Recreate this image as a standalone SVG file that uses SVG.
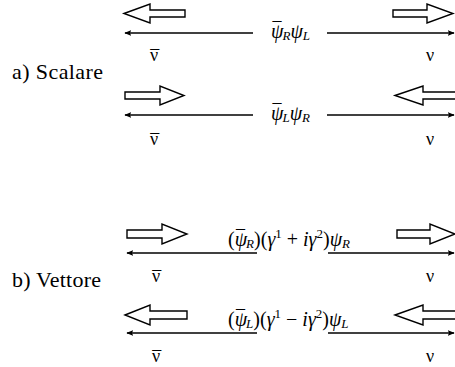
<svg xmlns="http://www.w3.org/2000/svg" width="455" height="367" viewBox="0 0 455 367" font-family="'Liberation Serif', 'Times New Roman', 'DejaVu Serif', serif">
<style>
.big{fill:#fff;stroke:#000;stroke-width:1.4;stroke-linejoin:miter}
.ln{stroke:#000;stroke-width:1.6;fill:none}
.m{font-style:italic;fill:#000;font-size:20px}
.sub{font-size:13px;font-style:italic}
.lab{font-size:22px;fill:#000}
.nu{font-size:18px;fill:#000}
.mac{font-size:18px;font-style:normal}
</style>
<defs>
<marker id="ah" viewBox="0 0 10 10" refX="9" refY="5" markerWidth="7" markerHeight="7" markerUnits="userSpaceOnUse" orient="auto">
<path d="M0,1 L10,5 L0,9 L2,5 Z" fill="#000"/>
</marker>
</defs>

<g id="label-a"><text class="lab" x="12" y="79" textLength="91">a) Scalare</text></g>
<g id="label-b"><text class="lab" x="12" y="287" textLength="89">b) Vettore</text></g>

<g id="row1">
<polygon class="big" points="124,13.5 150,4 150,10 185,10 185,17 150,17 150,23"/>
<polygon class="big" points="393,10 427,10 427,4 453,13.5 427,23 427,17 393,17"/>
<text class="m" x="271" y="38">ψ<tspan class="mac" dx="-11" dy="-3">¯</tspan><tspan class="sub" dx="1" dy="5">R</tspan><tspan dy="-2">ψ</tspan><tspan class="sub" dy="2">L</tspan></text>
<text class="nu" x="150" y="61">ν<tspan dx="-8" dy="2">¯</tspan></text>
<text class="nu" x="426" y="61">ν</text>
</g>

<g id="row2">
<polygon class="big" points="125,92 160,92 160,86 184,95.5 160,105 160,99 125,99"/>
<polygon class="big" points="395,95.5 423,86 423,92 458,92 458,99 423,99 423,105"/>
<text class="m" x="271" y="120">ψ<tspan class="mac" dx="-11" dy="-3">¯</tspan><tspan class="sub" dx="1" dy="5">L</tspan><tspan dy="-2">ψ</tspan><tspan class="sub" dy="2">R</tspan></text>
<text class="nu" x="150" y="145">ν<tspan dx="-8" dy="2">¯</tspan></text>
<text class="nu" x="426" y="145">ν</text>
</g>

<g id="row3">
<polygon class="big" points="127,230 162,230 162,224 187,234 162,244 162,238 127,238"/>
<polygon class="big" points="397,230 430,230 430,224 455,234 430,244 430,238 397,238"/>
<text x="228" y="246" font-size="20">(<tspan font-style="italic">ψ</tspan><tspan class="mac" dx="-11" dy="-3">¯</tspan><tspan class="sub" dx="1" dy="5">R</tspan><tspan dy="-2">)(</tspan><tspan font-style="italic">γ</tspan><tspan font-size="13" dy="-8">1</tspan><tspan dy="8"> + </tspan><tspan font-style="italic">iγ</tspan><tspan font-size="13" dy="-8">2</tspan><tspan dy="8">)</tspan><tspan font-style="italic">ψ</tspan><tspan class="sub" dy="2">R</tspan></text>
<text class="nu" x="152" y="282">ν<tspan dx="-8" dy="2">¯</tspan></text>
<text class="nu" x="426" y="282">ν</text>
</g>

<g id="row4">
<polygon class="big" points="125,315 150,305 150,311 187,311 187,319 150,319 150,325"/>
<polygon class="big" points="395,315 423,305 423,311 458,311 458,319 423,319 423,325"/>
<text x="228" y="326" font-size="20">(<tspan font-style="italic">ψ</tspan><tspan class="mac" dx="-11" dy="-3">¯</tspan><tspan class="sub" dx="1" dy="5">L</tspan><tspan dy="-2">)(</tspan><tspan font-style="italic">γ</tspan><tspan font-size="13" dy="-8">1</tspan><tspan dy="8"> − </tspan><tspan font-style="italic">iγ</tspan><tspan font-size="13" dy="-8">2</tspan><tspan dy="8">)</tspan><tspan font-style="italic">ψ</tspan><tspan class="sub" dy="2">L</tspan></text>
<text class="nu" x="152" y="362">ν<tspan dx="-8" dy="2">¯</tspan></text>
<text class="nu" x="426" y="362">ν</text>
</g>

<g id="connectors">
<line class="ln" x1="253" y1="33" x2="125" y2="33" marker-end="url(#ah)"/>
<line class="ln" x1="327" y1="33" x2="454" y2="33" marker-end="url(#ah)"/>
<line class="ln" x1="253" y1="115" x2="125" y2="115" marker-end="url(#ah)"/>
<line class="ln" x1="327" y1="115" x2="454" y2="115" marker-end="url(#ah)"/>
<line class="ln" x1="257" y1="253" x2="127" y2="253" marker-end="url(#ah)"/>
<line class="ln" x1="328" y1="253" x2="454" y2="253" marker-end="url(#ah)"/>
<line class="ln" x1="257" y1="333" x2="127" y2="333" marker-end="url(#ah)"/>
<line class="ln" x1="328" y1="333" x2="454" y2="333" marker-end="url(#ah)"/>
</g>
</svg>
